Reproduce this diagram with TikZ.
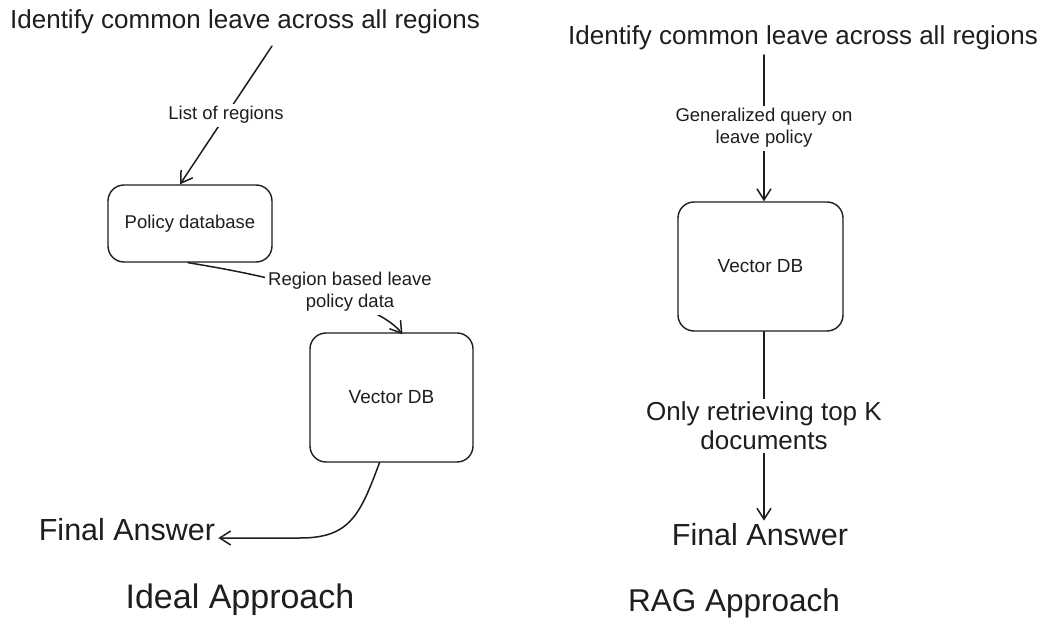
\documentclass[tikz,border=0pt]{standalone}
\usepackage{fontspec}
\setmainfont{Liberation Sans}
\usetikzlibrary{arrows.meta,calc}
\definecolor{ink}{HTML}{1E1E1E}
\begin{document}
\begin{tikzpicture}[x=1pt,y=-1pt,
  txt/.style={text=ink, inner sep=0pt},
  box/.style={draw=ink, line width=1.4pt, rounded corners=16pt, fill=white, inner sep=0pt, text=ink},
  arr/.style={draw=ink, line width=1.5pt, line cap=round, -{Straight Barb[length=11pt,width=14pt]}},
  lbl/.style={text=ink, fill=white, inner sep=3pt, align=center, font=\fontsize{18.5}{22}\selectfont},
]
\useasboundingbox[fill=white] (0,0) rectangle (1050,631);

% left side
\node[txt, font=\fontsize{26}{30}\selectfont] (t1) at (245,22) {Identify common leave across all regions};
\node[box, minimum width=164pt, minimum height=77pt, font=\fontsize{18.5}{22}\selectfont] (pd) at (190,223.5) {Policy database};
\node[box, minimum width=163pt, minimum height=129pt, font=\fontsize{19}{22}\selectfont] (v1) at (391.5,397.5) {Vector DB};
\node[txt, font=\fontsize{30.5}{34}\selectfont] (fa1) at (127,530) {Final Answer};
\node[txt, font=\fontsize{34}{38}\selectfont] (ia) at (240,600) {Ideal Approach};

\coordinate (s1) at (272,46);
\draw[arr] (s1) -- ($(pd.north)+(-10,0)$) node[lbl, midway] {List of regions};
\draw[arr] ($(pd.south)+(-2,0)$) .. controls (290,279) and (380,305) .. ($(v1.north)+(11,2)$);
\node[lbl] (l2) at (350,292) {Region based leave\\policy data};
\draw[arr] ($(v1.south)+(-12,0)$) .. controls (360,515) and (350,538) .. (300,538) -- ($(fa1.east)+(3,8)$);

% right side
\node[txt, font=\fontsize{26}{30}\selectfont] (t2) at (803,38) {Identify common leave across all regions};
\node[box, minimum width=165pt, minimum height=129pt, font=\fontsize{19}{22}\selectfont] (v2) at (760.5,266.5) {Vector DB};
\node[txt, font=\fontsize{30.5}{34}\selectfont] (fa2) at (760,535) {Final Answer};
\node[txt, font=\fontsize{31.5}{36}\selectfont] (ra) at (734,603) {RAG Approach};

\coordinate (s2) at (764,55);
\draw[arr] (s2) -- (s2 |- v2.north) node[lbl, midway] {Generalized query on\\leave policy};
\draw[arr] (v2.south -| s2) -- ($(fa2.north -| s2)+(0,-3)$) node[lbl, midway, font=\fontsize{26}{29}\selectfont] {Only retrieving top K\\documents};
\end{tikzpicture}
\end{document}
